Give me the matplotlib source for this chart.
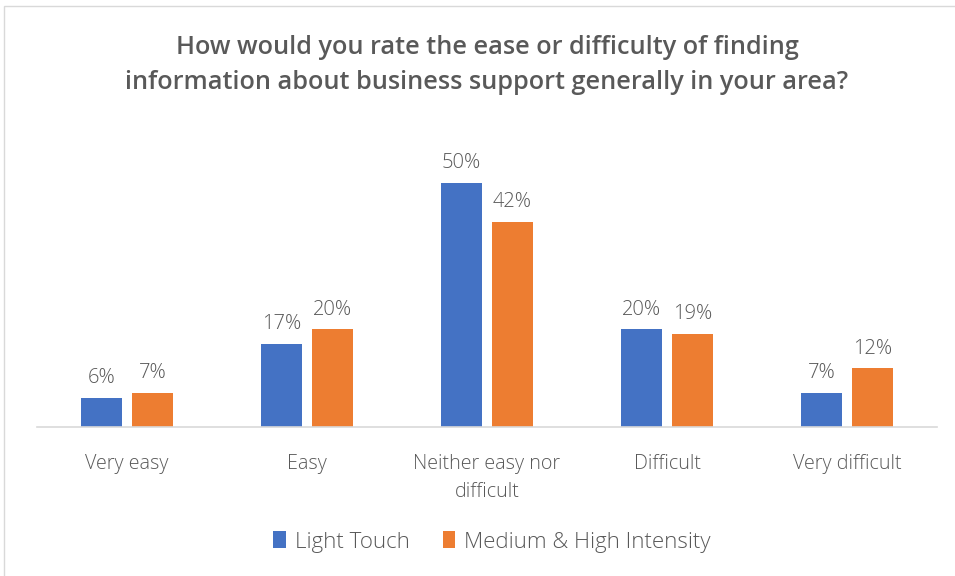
import matplotlib
matplotlib.use("Agg")
import matplotlib.pyplot as plt
import numpy as np
from matplotlib.patches import Rectangle

categories = ["Very easy", "Easy", "Neither easy nor\ndifficult", "Difficult", "Very difficult"]
series_names = ["Light Touch", "Medium & High Intensity"]
light_touch = [6, 17, 50, 20, 7]
medium_high = [7, 20, 42, 19, 12]

BLUE = "#4472C4"
ORANGE = "#ED7D31"
TEXT = "#595959"

plt.rcParams["font.family"] = ["Open Sans", "DejaVu Sans"]

fig = plt.figure(figsize=(9.55, 5.76), dpi=100)
fig.patch.set_facecolor("white")

# chart-area border
fig.add_artist(Rectangle((4 / 955, -0.01), 1.0, 1.0 - 6 / 576 + 0.01,
                         transform=fig.transFigure, fill=False,
                         edgecolor="#d9d9d9", linewidth=1.0))

ax = fig.add_axes([37 / 955, 1 - 427 / 576, 900 / 955, (427 - 134) / 576])

x = np.arange(len(categories))
width = 41 / 180
offset = 25.5 / 180

b1 = ax.bar(x - offset, light_touch, width, color=BLUE, label=series_names[0])
b2 = ax.bar(x + offset, medium_high, width, color=ORANGE, label=series_names[1])

for bars, vals in ((b1, light_touch), (b2, medium_high)):
    for rect, v in zip(bars, vals):
        ax.annotate(f"{v}%", (rect.get_x() + rect.get_width() / 2, v),
                    xytext=(0, 7), textcoords="offset points",
                    ha="center", va="bottom", fontsize=14.5, color=TEXT,
                    fontweight="light")

ax.set_xlim(-0.5, len(categories) - 0.5)
ax.set_ylim(0, 60)
ax.set_yticks([])
ax.set_xticks(x)
ax.set_xticklabels(categories, fontsize=14.2, color=TEXT, linespacing=1.5,
                   fontweight="light")
ax.tick_params(axis="x", length=0, pad=19.5)
for side in ("top", "right", "left"):
    ax.spines[side].set_visible(False)
ax.spines["bottom"].set_color("#d9d9d9")
ax.spines["bottom"].set_linewidth(1.2)

fig.text(487 / 955, 1 - 65 / 576,
         "How would you rate the ease or difficulty of finding\n"
         "information about business support generally in your area?",
         ha="center", va="center", fontsize=18.2, fontweight="semibold",
         color=TEXT, linespacing=1.5)

leg = fig.legend(handles=[b1, b2], labels=series_names, loc="center",
                 bbox_to_anchor=(492 / 955, 1 - 542 / 576), ncol=2, frameon=False,
                 prop={"size": 16, "weight": "light"},
                 handlelength=0.55, handleheight=0.8,
                 handletextpad=0.4, columnspacing=1.5)
for t in leg.get_texts():
    t.set_color(TEXT)

fig.savefig("out.png", dpi=100, facecolor="white")
